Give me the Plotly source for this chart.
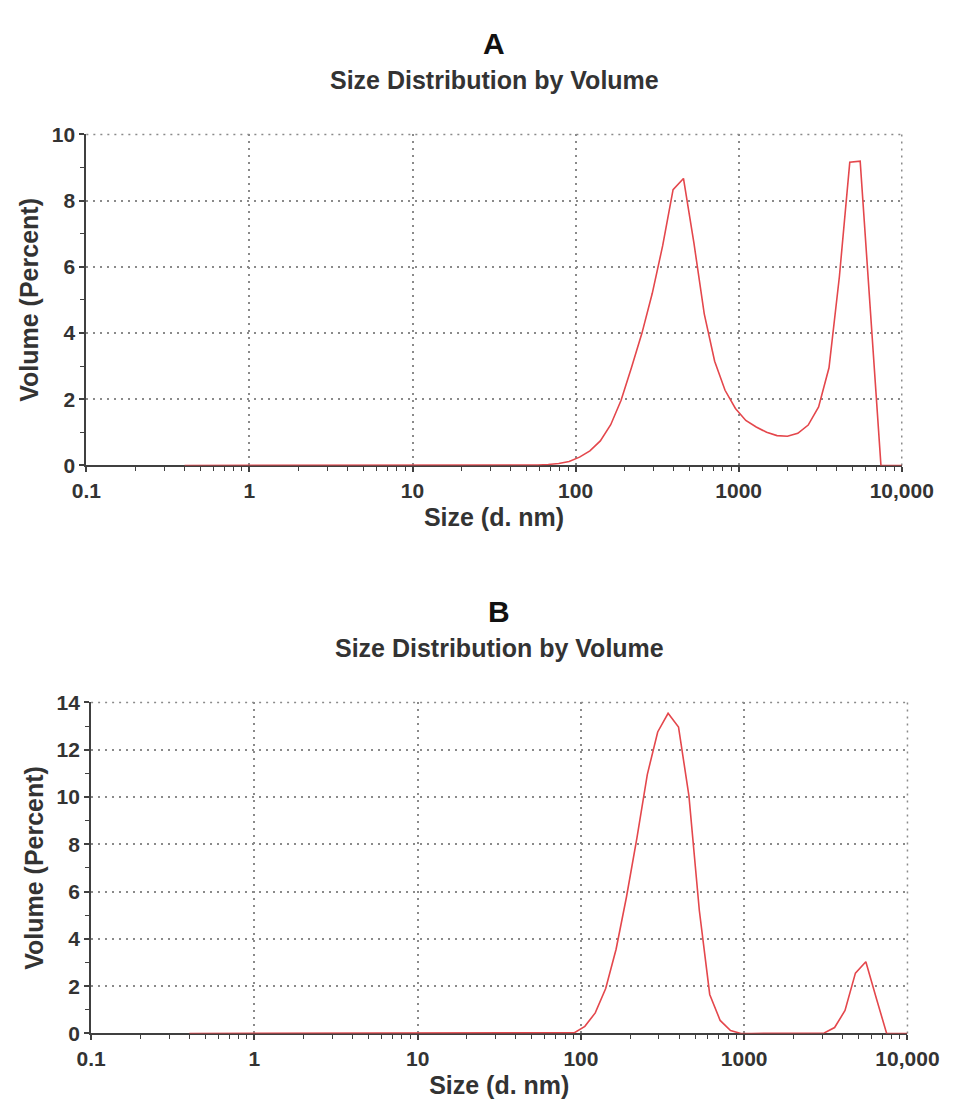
import plotly.graph_objects as go

W, H = 968, 1113
FONT = "Liberation Sans, Arial, Helvetica, sans-serif"

# Size classes (d. nm) of the instrument's volume distribution
size_nm = [
    0.4, 0.4632, 0.5365, 0.6213, 0.7195, 0.8332, 0.9649, 1.117, 1.294, 1.499,
    1.736, 2.010, 2.328, 2.696, 3.122, 3.615, 4.187, 4.849, 5.615, 6.503,
    7.531, 8.721, 10.10, 11.70, 13.54, 15.69, 18.17, 21.04, 24.36, 28.21,
    32.67, 37.84, 43.82, 50.75, 58.77, 68.06, 78.82, 91.28, 105.7, 122.4,
    141.8, 164.2, 190.1, 220.2, 255.0, 295.3, 342.0, 396.1, 458.7, 531.2,
    615.1, 712.4, 825.0, 955.4, 1106, 1281, 1484, 1718, 1990, 2305,
    2669, 3091, 3580, 4145, 4801, 5560, 6439, 7456, 8635, 10000,
]

# Sample A: volume (%) per size class
volume_a = [
    0, 0, 0, 0, 0, 0, 0, 0, 0, 0,
    0, 0, 0, 0, 0, 0, 0, 0, 0, 0,
    0, 0, 0, 0, 0, 0, 0, 0, 0, 0,
    0, 0, 0, 0.005, 0.015, 0.03, 0.06, 0.12, 0.25, 0.44,
    0.74, 1.23, 1.97, 2.96, 3.99, 5.2, 6.64, 8.33, 8.67, 6.73,
    4.58, 3.15, 2.27, 1.72, 1.36, 1.16, 1.0, 0.9, 0.88, 0.97,
    1.22, 1.77, 2.95, 5.7, 9.16, 9.19, 4.7, 0, 0, 0,
]

# Sample B: volume (%) per size class
volume_b = [
    0, 0, 0, 0, 0, 0, 0, 0, 0, 0,
    0, 0, 0, 0, 0, 0, 0, 0, 0, 0,
    0, 0, 0, 0, 0, 0, 0, 0, 0, 0,
    0, 0, 0, 0, 0, 0, 0, 0.03, 0.3, 0.87,
    1.9, 3.56, 5.77, 8.26, 10.95, 12.75, 13.54, 12.96, 10.05, 5.2,
    1.65, 0.55, 0.12, 0, 0, 0, 0, 0, 0, 0,
    0, 0.02, 0.25, 0.97, 2.55, 3.03, 1.5, 0, 0, 0,
]

x_tick_vals = [0.1, 1, 10, 100, 1000, 10000]
x_tick_text = ["0.1", "1", "10", "100", "1000", "10,000"]
x_minor_vals = [m * 10.0 ** e for e in range(-1, 4) for m in range(2, 10)]

panel_letters = ["A", "B"]
panel_title = "Size Distribution by Volume"
x_title = "Size (d. nm)"
y_title = "Volume (Percent)"
y_max = [10, 14]

# Pixel boxes of the two plot areas: (left, right, top, bottom)
boxes = [(75, 932, 125, 463), (80, 938, 705, 1043)]

LINE_RED = "#e4474c"
AXIS_COL = "#404040"
GRID_COL = "#8a8a8a"
GRID_DASH = "2px,5px"
GRID_W = 1.5
TEXT_COL = "#333333"

fig = go.Figure()

for i, vol in enumerate([volume_a, volume_b]):
    n = "" if i == 0 else str(i + 1)
    fig.add_trace(go.Scatter(
        x=size_nm, y=vol, mode="lines",
        line=dict(color=LINE_RED, width=1.6),
        xaxis="x" + n, yaxis="y" + n, showlegend=False,
        hoverinfo="x+y",
    ))

layout = dict(
    width=W, height=H,
    margin=dict(l=0, r=0, t=0, b=0),
    paper_bgcolor="white", plot_bgcolor="white",
    font=dict(family=FONT, color=TEXT_COL),
    annotations=[], shapes=[],
)

for i, (l, r, t, b) in enumerate(boxes):
    n = "" if i == 0 else str(i + 1)
    xa = dict(
        type="log", range=[-1, 4],
        domain=[l / W, r / W], anchor="y" + n,
        tickmode="array", tickvals=x_tick_vals, ticktext=x_tick_text,
        ticks="outside", ticklen=5, tickwidth=1.5, tickcolor=AXIS_COL,
        showline=True, linecolor=AXIS_COL, linewidth=2,
        showgrid=True, gridcolor=GRID_COL, gridwidth=GRID_W, griddash=GRID_DASH,
        minor=dict(tickvals=x_minor_vals, ticks="outside", ticklen=4,
                   tickwidth=1.3, tickcolor=AXIS_COL, showgrid=False),
        tickfont=dict(family=FONT, size=21, color=TEXT_COL, weight="bold"),
        title=dict(text=x_title, standoff=8,
                   font=dict(family=FONT, size=25, color=TEXT_COL, weight="bold")),
        zeroline=False, layer="below traces",
    )
    ya = dict(
        range=[0, y_max[i]],
        domain=[1 - b / H, 1 - t / H], anchor="x" + n,
        tick0=0, dtick=2,
        ticks="outside", ticklen=5, tickwidth=1.5, tickcolor=AXIS_COL,
        showline=True, linecolor=AXIS_COL, linewidth=2,
        showgrid=True, gridcolor=GRID_COL, gridwidth=GRID_W, griddash=GRID_DASH,
        minor=dict(dtick=1, ticks="outside", ticklen=4,
                   tickwidth=1.3, tickcolor=AXIS_COL, showgrid=False),
        tickfont=dict(family=FONT, size=21, color=TEXT_COL, weight="bold"),
        title=dict(text=y_title, standoff=6,
                   font=dict(family=FONT, size=25, color=TEXT_COL, weight="bold")),
        zeroline=False, layer="below traces",
    )
    layout["xaxis" + n] = xa
    layout["yaxis" + n] = ya

    # dotted frame along the top and right edges of the plot area
    grid_line = dict(color=GRID_COL, width=GRID_W, dash=GRID_DASH)
    layout["shapes"].append(dict(
        type="line", xref="x" + n + " domain", yref="y" + n + " domain",
        x0=0, x1=1, y0=1, y1=1, line=grid_line, layer="below",
    ))
    layout["shapes"].append(dict(
        type="line", xref="x" + n + " domain", yref="y" + n + " domain",
        x0=1, x1=1, y0=0, y1=1, line=grid_line, layer="below",
    ))

    cx = (l + r) / 2 / W
    layout["annotations"].append(dict(
        text=panel_letters[i], xref="paper", yref="paper",
        x=cx, y=1 - (t - 93) / H, xanchor="center", yanchor="middle",
        showarrow=False,
        font=dict(family=FONT, size=30, color="#111111", weight="bold"),
    ))
    layout["annotations"].append(dict(
        text=panel_title, xref="paper", yref="paper",
        x=cx, y=1 - (t - 56) / H, xanchor="center", yanchor="middle",
        showarrow=False,
        font=dict(family=FONT, size=25, color=TEXT_COL, weight="bold"),
    ))

fig.update_layout(**layout)
fig.write_html("out.html")
